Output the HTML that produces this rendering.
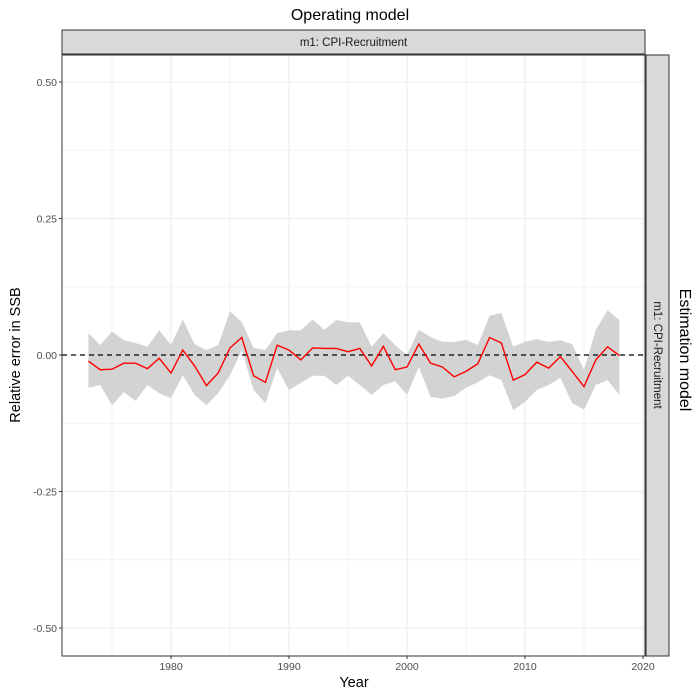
<!DOCTYPE html>
<html><head><meta charset="utf-8"><style>
html,body{margin:0;padding:0;background:#fff;}
svg{display:block;font-family:"Liberation Sans",sans-serif;}
</style></head><body>
<svg id="c" width="700" height="700" xmlns="http://www.w3.org/2000/svg"></svg>
<script>
const years=[];for(let y=1973;y<=2018;y++)years.push(y);
const median=[-0.011,-0.027,-0.026,-0.015,-0.015,-0.025,-0.006,-0.033,0.009,-0.02,-0.056,-0.033,0.013,0.032,-0.038,-0.05,0.018,0.009,-0.009,0.013,0.012,0.012,0.006,0.012,-0.02,0.016,-0.027,-0.022,0.02,-0.015,-0.022,-0.04,-0.03,-0.016,0.032,0.022,-0.046,-0.036,-0.013,-0.024,-0.003,-0.03,-0.058,-0.009,0.015,-0.001];
const upper=[0.04,0.018,0.043,0.027,0.022,0.015,0.045,0.018,0.065,0.02,0.009,0.018,0.08,0.06,0.013,0.009,0.04,0.045,0.045,0.065,0.046,0.064,0.06,0.06,0.015,0.04,0.018,0.0,0.046,0.033,0.024,0.024,0.028,0.018,0.072,0.077,0.015,0.024,0.029,0.024,0.027,0.02,-0.027,0.046,0.082,0.064];
const lower=[-0.06,-0.055,-0.092,-0.068,-0.084,-0.055,-0.07,-0.079,-0.037,-0.073,-0.092,-0.07,-0.037,0.009,-0.064,-0.088,-0.024,-0.064,-0.051,-0.038,-0.038,-0.055,-0.038,-0.055,-0.073,-0.055,-0.048,-0.073,-0.022,-0.077,-0.08,-0.075,-0.06,-0.05,-0.037,-0.046,-0.101,-0.086,-0.064,-0.055,-0.042,-0.088,-0.1,-0.055,-0.046,-0.073];
const xTicks=[1980,1990,2000,2010,2020];
const yTicks=[0.5,0.25,0,-0.25,-0.5];
const yTickLabels=["0.50","0.25","0.00","-0.25","-0.50"];

const NS="http://www.w3.org/2000/svg";
const svg=document.getElementById('c');
const L=62,R=645,T=55,B=656;
const xs=v=>171+(v-1980)*11.8;
const ys=v=>355-v*546;
function mk(tag,attrs,parent){const e=document.createElementNS(NS,tag);for(const k in attrs)e.setAttribute(k,attrs[k]);(parent||svg).appendChild(e);return e;}

let e;
e=mk('rect',{x:L,y:T,width:R-L,height:B-T,fill:'#fff'});


// minor grid
for(let v=1975;v<=2015;v+=10){e=mk('line',{x1:xs(v),x2:xs(v),y1:T,y2:B,stroke:'#f2f2f2','stroke-width':1});

}
for(const v of [0.375,0.125,-0.125,-0.375]){e=mk('line',{x1:L,x2:R,y1:ys(v),y2:ys(v),stroke:'#f2f2f2','stroke-width':1});

}
xTicks.forEach(v=>{e=mk('line',{x1:xs(v),x2:xs(v),y1:T,y2:B,stroke:'#ebebeb','stroke-width':1.1});

});
yTicks.forEach(v=>{e=mk('line',{x1:L,x2:R,y1:ys(v),y2:ys(v),stroke:'#ebebeb','stroke-width':1.1});

});
// band
let pts=years.map((y,i)=>xs(y)+','+ys(upper[i]));
for(let i=years.length-1;i>=0;i--)pts.push(xs(years[i])+','+ys(lower[i]));
e=mk('polygon',{points:pts.join(' '),fill:'#d3d3d3'});


e=mk('line',{x1:L,x2:R,y1:ys(0),y2:ys(0),stroke:'#000','stroke-width':1.3,'stroke-dasharray':'5,4'});


e=mk('polyline',{points:years.map((y,i)=>xs(y)+','+ys(median[i])).join(' '),fill:'none',stroke:'#ff0000','stroke-width':1.4});


e=mk('rect',{x:L,y:T,width:R-L,height:B-T,fill:'none',stroke:'#333','stroke-width':1});


// ticks
xTicks.forEach(v=>{e=mk('line',{x1:xs(v),x2:xs(v),y1:B,y2:B+3,stroke:'#333'});


e=mk('text',{x:xs(v),y:B+14,'text-anchor':'middle','font-size':'10.5',fill:'#4d4d4d'});e.textContent=v;

});
yTicks.forEach((v,i)=>{e=mk('line',{x1:L-3,x2:L,y1:ys(v),y2:ys(v),stroke:'#333'});


e=mk('text',{x:L-5,y:ys(v)+4,'text-anchor':'end','font-size':'10.5',fill:'#4d4d4d'});e.textContent=yTickLabels[i];

});
// strips
e=mk('rect',{x:L,y:30,width:R-L,height:24,fill:'#d9d9d9',stroke:'#333','stroke-width':1});


e=mk('text',{x:(L+R)/2,y:46,'text-anchor':'middle','font-size':'11.5',fill:'#1a1a1a'});e.textContent='m1:  CPI-Recruitment';


e=mk('rect',{x:646,y:T,width:23,height:B-T,fill:'#d9d9d9',stroke:'#333','stroke-width':1});


e=mk('text',{x:0,y:0,'text-anchor':'middle','font-size':'11.5',fill:'#1a1a1a',transform:'translate(654,355) rotate(90)'});e.textContent='m1:  CPI-Recruitment';


// titles
e=mk('text',{x:350,y:20,'text-anchor':'middle','font-size':'16',fill:'#000'});e.textContent='Operating model';


e=mk('text',{x:0,y:0,'text-anchor':'middle','font-size':'16',fill:'#000',transform:'translate(680,350) rotate(90)'});e.textContent='Estimation model';


e=mk('text',{x:354,y:687,'text-anchor':'middle','font-size':'14.5',fill:'#000'});e.textContent='Year';


e=mk('text',{x:0,y:0,'text-anchor':'middle','font-size':'14.5',fill:'#000',transform:'translate(20,355) rotate(-90)'});e.textContent='Relative error in SSB';


</script>
</body></html>
